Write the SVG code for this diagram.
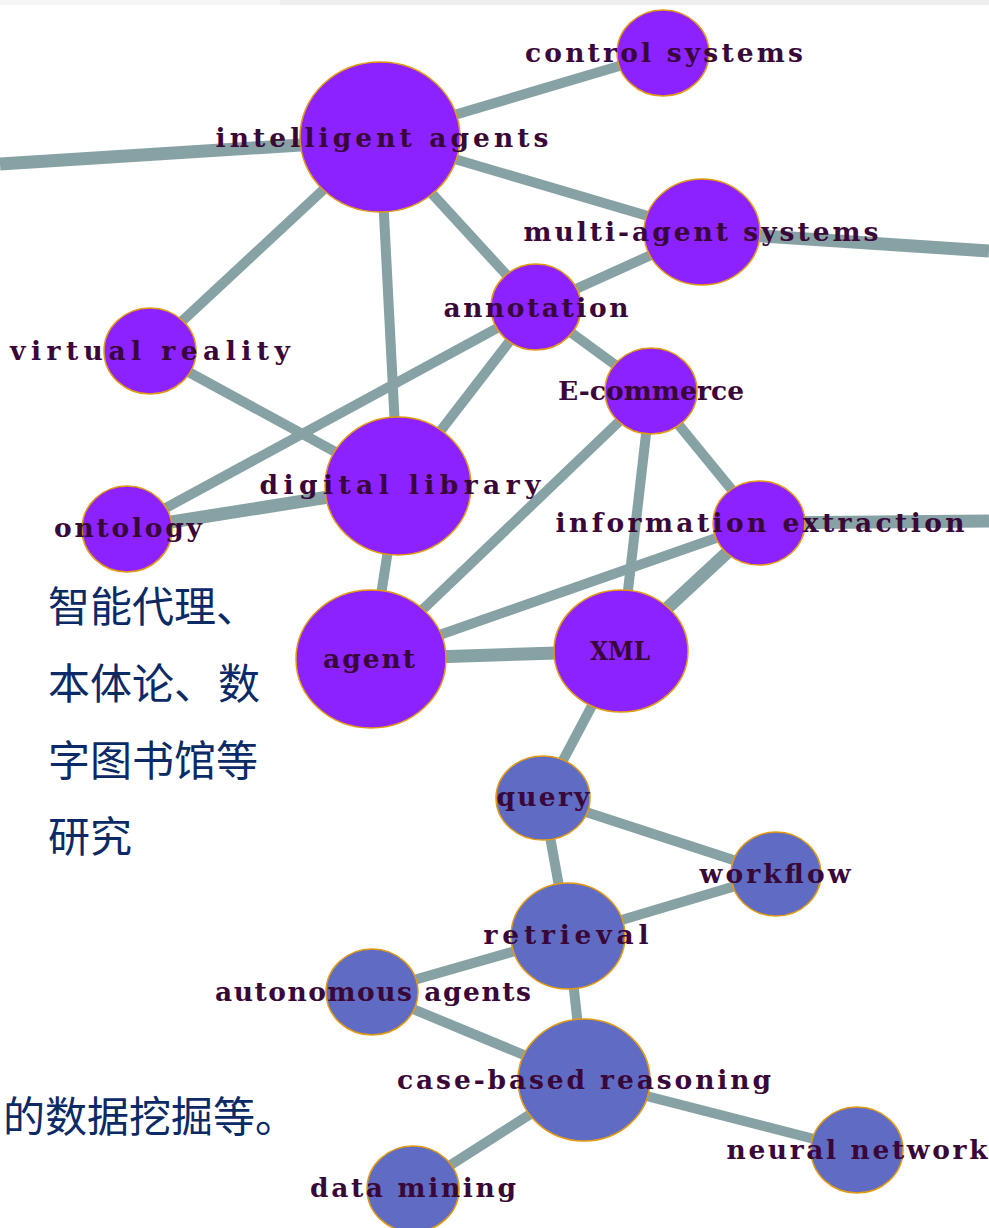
<svg xmlns="http://www.w3.org/2000/svg" width="989" height="1228" viewBox="0 0 989 1228">
<style>
.e{stroke:#87a2a4;stroke-width:10;fill:none}
.w{stroke-width:13}
.p{fill:#8b22ff;stroke:#e39a10;stroke-width:1.5}
.b{fill:#606cc4;stroke:#e39a10;stroke-width:1.5}
.l{font-family:"DejaVu Serif","Liberation Serif",serif;font-size:26.5px;font-weight:bold;fill:#3a0838;text-anchor:middle}
.c{font-family:"Noto Sans CJK SC","Noto Sans",sans-serif;font-size:42px;fill:#0b2a66}
</style>
<rect x="0" y="0" width="989" height="1228" fill="#ffffff"/>
<rect x="0" y="0" width="989" height="5" fill="#eeeeee"/>
<rect x="0" y="0" width="280" height="5" fill="#f6f6f6"/>
<g id="connectors">
<line class="e w" x1="0" y1="164" x2="380" y2="140"/>
<line class="e" x1="380" y1="137" x2="663" y2="53"/>
<line class="e" x1="380" y1="137" x2="702" y2="232"/>
<line class="e w" x1="702" y1="232" x2="989" y2="251"/>
<line class="e" x1="380" y1="137" x2="150" y2="351"/>
<line class="e" x1="380" y1="137" x2="398" y2="486"/>
<line class="e" x1="380" y1="137" x2="536" y2="307"/>
<line class="e" x1="536" y1="307" x2="702" y2="232"/>
<line class="e" x1="536" y1="307" x2="651" y2="391"/>
<line class="e" x1="536" y1="307" x2="398" y2="486"/>
<line class="e" x1="536" y1="307" x2="127" y2="529"/>
<line class="e" x1="150" y1="351" x2="398" y2="486"/>
<line class="e w" x1="127" y1="529" x2="398" y2="486"/>
<line class="e" x1="398" y1="486" x2="371" y2="659"/>
<line class="e" x1="651" y1="391" x2="371" y2="659"/>
<line class="e" x1="651" y1="391" x2="621" y2="651"/>
<line class="e" x1="651" y1="391" x2="759" y2="523"/>
<line class="e w" x1="759" y1="523" x2="989" y2="521"/>
<line class="e" x1="759" y1="523" x2="371" y2="659"/>
<line class="e w" x1="759" y1="523" x2="621" y2="651"/>
<line class="e w" x1="371" y1="659" x2="621" y2="651"/>
<line class="e" x1="621" y1="651" x2="543" y2="798"/>
<line class="e" x1="543" y1="798" x2="776" y2="874"/>
<line class="e" x1="543" y1="798" x2="568" y2="936"/>
<line class="e" x1="568" y1="936" x2="776" y2="874"/>
<line class="e" x1="568" y1="936" x2="372" y2="992"/>
<line class="e" x1="568" y1="936" x2="584" y2="1080"/>
<line class="e" x1="372" y1="992" x2="584" y2="1080"/>
<line class="e" x1="584" y1="1080" x2="857" y2="1150"/>
<line class="e" x1="584" y1="1080" x2="413" y2="1189"/>
</g>
<g id="n-control-systems"><ellipse class="p" cx="663" cy="53" rx="46" ry="43"/><text class="l" x="664" y="62" textLength="278" lengthAdjust="spacing">control systems</text></g>
<g id="n-intelligent-agents"><ellipse class="p" cx="380" cy="137" rx="80" ry="75"/><text class="l" x="382" y="147" textLength="333" lengthAdjust="spacing">intelligent agents</text></g>
<g id="n-multi-agent-systems"><ellipse class="p" cx="702" cy="232" rx="58" ry="53"/><text class="l" x="701" y="241" textLength="355" lengthAdjust="spacing">multi-agent systems</text></g>
<g id="n-annotation"><ellipse class="p" cx="536" cy="307" rx="45" ry="43"/><text class="l" x="536" y="317" textLength="185" lengthAdjust="spacing">annotation</text></g>
<g id="n-virtual-reality"><ellipse class="p" cx="150" cy="351" rx="46" ry="43"/><text class="l" x="150" y="360" textLength="280" lengthAdjust="spacing">virtual reality</text></g>
<g id="n-e-commerce"><ellipse class="p" cx="651" cy="391" rx="46" ry="43"/><text class="l" x="651" y="400" textLength="186" lengthAdjust="spacing">E-commerce</text></g>
<g id="n-digital-library"><ellipse class="p" cx="398" cy="486" rx="73" ry="69"/><text class="l" x="400" y="494" textLength="281" lengthAdjust="spacing">digital library</text></g>
<g id="n-ontology"><ellipse class="p" cx="127" cy="529" rx="45" ry="43"/><text class="l" x="128" y="537" textLength="148" lengthAdjust="spacing">ontology</text></g>
<g id="n-information-extraction"><ellipse class="p" cx="759" cy="523" rx="46" ry="42"/><text class="l" x="760" y="532" textLength="409" lengthAdjust="spacing">information extraction</text></g>
<g id="n-agent"><ellipse class="p" cx="371" cy="659" rx="75" ry="69"/><text class="l" x="369" y="668" textLength="92" lengthAdjust="spacing">agent</text></g>
<g id="n-xml"><ellipse class="p" cx="621" cy="651" rx="67" ry="61"/><text class="l" x="620" y="660" textLength="60" lengthAdjust="spacingAndGlyphs">XML</text></g>
<g id="n-query"><ellipse class="b" cx="543" cy="798" rx="47" ry="42"/><text class="l" x="543" y="806" textLength="93" lengthAdjust="spacing">query</text></g>
<g id="n-workflow"><ellipse class="b" cx="776" cy="874" rx="45" ry="42"/><text class="l" x="775" y="883" textLength="151" lengthAdjust="spacing">workflow</text></g>
<g id="n-retrieval"><ellipse class="b" cx="568" cy="936" rx="57" ry="53"/><text class="l" x="566" y="944" textLength="165" lengthAdjust="spacing">retrieval</text></g>
<g id="n-autonomous-agents"><ellipse class="b" cx="372" cy="992" rx="46" ry="43"/><text class="l" x="373" y="1001" textLength="316" lengthAdjust="spacing">autonomous agents</text></g>
<g id="n-case-based-reasoning"><ellipse class="b" cx="584" cy="1080" rx="66" ry="61"/><text class="l" x="584" y="1089" textLength="374" lengthAdjust="spacing">case-based reasoning</text></g>
<g id="n-neural-network"><ellipse class="b" cx="857" cy="1150" rx="46" ry="43"/><text class="l" x="857" y="1159" textLength="261" lengthAdjust="spacing">neural network</text></g>
<g id="n-data-mining"><ellipse class="b" cx="413" cy="1189" rx="46" ry="43"/><text class="l" x="413" y="1197" textLength="206" lengthAdjust="spacing">data mining</text></g>
<g id="caption">
<text class="c" x="48" y="622">智能代理、</text>
<text class="c" x="48" y="699">本体论、<tspan x="218">数</tspan></text>
<text class="c" x="48" y="776">字图书馆等</text>
<text class="c" x="48" y="852">研究</text>
<text class="c" x="3" y="1132">的数据挖掘等。</text>
</g>
</svg>
